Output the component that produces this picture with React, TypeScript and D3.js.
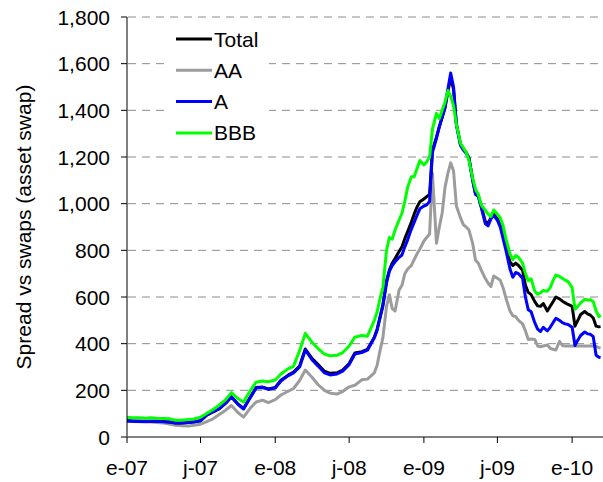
import React from 'react';
import * as d3 from 'd3';

const dates = [
  '2007-01-01','2007-01-15','2007-02-01','2007-02-15','2007-03-01','2007-03-15','2007-04-01','2007-04-15',
  '2007-05-01','2007-05-15','2007-06-01','2007-06-15','2007-07-01','2007-07-15','2007-08-01','2007-08-15',
  '2007-09-01','2007-09-15','2007-10-01','2007-10-15','2007-11-01','2007-11-15','2007-12-01','2007-12-15',
  '2008-01-01','2008-01-15','2008-02-01','2008-02-15','2008-03-01','2008-03-15','2008-04-01','2008-04-15',
  '2008-05-01','2008-05-15','2008-06-01','2008-06-15','2008-07-01','2008-07-15','2008-08-01','2008-08-15',
  '2008-09-01','2008-09-08','2008-09-15','2008-09-22','2008-10-01','2008-10-08','2008-10-15','2008-10-22',
  '2008-11-01','2008-11-08','2008-11-15','2008-11-22','2008-12-01','2008-12-08','2008-12-15','2008-12-22',
  '2009-01-01','2009-01-08','2009-01-15','2009-01-22','2009-02-01','2009-02-08','2009-02-15','2009-02-22',
  '2009-03-01','2009-03-08','2009-03-15','2009-03-22','2009-04-01','2009-04-08','2009-04-15','2009-04-22',
  '2009-05-01','2009-05-08','2009-05-15','2009-05-22','2009-06-01','2009-06-08','2009-06-15','2009-06-22',
  '2009-07-01','2009-07-08','2009-07-15','2009-07-22','2009-08-01','2009-08-08','2009-08-15','2009-08-22',
  '2009-09-01','2009-09-08','2009-09-15','2009-09-22','2009-10-01','2009-10-08','2009-10-15','2009-10-22',
  '2009-11-01','2009-11-08','2009-11-15','2009-11-22','2009-12-01','2009-12-08','2009-12-15','2009-12-22',
  '2010-01-01','2010-01-08','2010-01-15','2010-01-22','2010-02-01','2010-02-08','2010-02-15','2010-02-22',
  '2010-03-01','2010-03-08','2010-03-12',
];

const bbbValues = [
  85, 83, 82, 80, 82, 80, 79, 78,
  72, 72, 75, 77, 85, 100, 118, 135,
  160, 190, 165, 150, 200, 235, 240, 237,
  244, 270, 292, 303, 370, 444, 405, 380,
  355, 348, 350, 362, 390, 428, 435, 432,
  500, 537, 594, 640, 800, 855, 848, 887,
  930, 959, 1010, 1070, 1115, 1115, 1150, 1185,
  1166, 1180, 1200, 1320, 1387, 1365, 1400, 1435,
  1485, 1460, 1420, 1340, 1259, 1240, 1220, 1185,
  1110, 1062, 1040, 995, 973, 955, 945, 973,
  955, 940, 905, 850, 785, 760, 778, 770,
  745, 700, 670, 678, 625, 612, 618, 628,
  625, 640, 670, 694, 688, 680, 672, 666,
  640, 548, 560, 575, 590, 587, 588, 580,
  540, 516, 522,
];

const totalValues = [
  70, 69, 68, 67, 68, 67, 66, 64,
  60, 60, 62, 64, 70, 92, 108, 120,
  145, 172, 142, 122, 172, 212, 214, 206,
  212, 243, 264, 278, 304, 377, 336, 312,
  282, 273, 275, 287, 315, 360, 366, 376,
  428, 463, 515, 568, 670, 715, 745, 765,
  795, 815, 850, 880, 920, 955, 985, 1008,
  1020, 1030, 1040, 1230, 1285, 1330, 1370, 1410,
  1480, 1540, 1490, 1340, 1255, 1235, 1220, 1195,
  1105, 1045, 1035, 990, 925, 915, 940, 955,
  935, 910, 865, 815, 750, 735, 745, 735,
  715, 650, 620, 610, 580, 562, 560, 572,
  540, 560, 580, 600, 592, 582, 575, 568,
  560, 475, 500, 525, 538, 528, 522, 510,
  475, 472, 473,
];

const aValues = [
  70, 68, 67, 66, 68, 67, 65, 64,
  60, 60, 62, 65, 70, 92, 108, 120,
  145, 172, 140, 120, 170, 210, 212, 204,
  210, 240, 262, 275, 300, 373, 330, 305,
  275, 266, 270, 282, 310, 356, 362, 372,
  425, 459, 510, 560, 660, 710, 735, 751,
  770, 780, 815, 845, 890, 920, 950, 978,
  990, 995, 1010, 1220, 1280, 1330, 1370, 1415,
  1490, 1560, 1500, 1340, 1250, 1230, 1216, 1195,
  1100, 1040, 1030, 985, 915, 905, 935, 950,
  928, 900, 850, 800, 720, 685, 705, 700,
  680, 600, 545, 537, 490, 462, 452, 470,
  455, 470, 490, 509, 500, 490, 485, 482,
  470, 392, 415, 435, 450, 442, 440, 430,
  350, 342, 341,
];

const aaValues = [
  68, 66, 65, 64, 64, 62, 60, 56,
  50, 48, 47, 50, 55, 65, 78, 95,
  115, 135, 105, 85, 125, 150, 158, 147,
  160, 180, 195, 208, 242, 287, 255, 225,
  200, 188, 184, 195, 215, 222, 245, 248,
  275, 309, 370, 425, 560, 610, 550, 540,
  630, 650, 700, 720, 735, 760, 785, 805,
  840, 855, 870, 1130, 830, 900, 960, 1070,
  1130, 1175, 1140, 990, 940, 910, 900, 887,
  830, 759, 745, 716, 680, 660, 645, 690,
  680, 672, 640, 595, 540, 520, 516, 500,
  485, 455, 418, 420, 418, 390, 387, 390,
  394, 380, 376, 373, 410, 392, 390, 390,
  390, 390, 390, 390, 390, 390, 390, 390,
  388, 383, 381,
];

const yTicks = [0, 200, 400, 600, 800, 1000, 1200, 1400, 1600, 1800];
const xTickDates = ['2007-01-01', '2007-07-01', '2008-01-01', '2008-07-01', '2009-01-01', '2009-07-01', '2010-01-01'];
const xTickLabels = ['e-07', 'j-07', 'e-08', 'j-08', 'e-09', 'j-09', 'e-10'];
const seriesNames = ['Total', 'AA', 'A', 'BBB'];
const seriesColors = ['#000000', '#9c9c9c', '#0000ff', '#00ff00'];
const yTitle = 'Spread vs swaps (asset swap)';

const FONT = '"Liberation Sans", Arial, sans-serif';

export default function App() {
  const W = 603;
  const H = 482;
  const parse = d3.timeParse('%Y-%m-%d');
  const parsed = dates.map((d) => parse(d) as Date);
  const x = d3.scaleTime().domain([parse('2007-01-01') as Date, parse('2010-03-18') as Date]).range([127, 603]);
  const y = d3.scaleLinear().domain([0, 1800]).range([437, 17]);
  const fmt = d3.format(',');

  const seriesValues = [totalValues, aaValues, aValues, bbbValues];
  const line = d3
    .line<number>()
    .x((_, i) => x(parsed[i]))
    .y((v) => y(v))
    .curve(d3.curveLinear);

  const drawOrder = [1, 0, 2, 3];

  return (
    <svg
      width={W}
      height={H}
      style={{ position: 'absolute', left: 0, top: 0, background: '#fff', display: 'block' }}
      fontFamily={FONT}
    >
      <rect x={0} y={0} width={W} height={H} fill="#fff" />
      {/* gridlines */}
      {yTicks.filter((t) => t > 0).map((t) => (
        <line
          key={'g' + t}
          x1={128}
          x2={W}
          y1={y(t)}
          y2={y(t)}
          stroke="#8c8c8c"
          strokeWidth={1}
          strokeDasharray="8,6"
        />
      ))}
      {/* legend background */}
      <rect x={165} y={24} width={104} height={124} fill="#fff" />
      {/* series */}
      {drawOrder.map((si) => (
        <path
          key={'s' + si}
          d={line(seriesValues[si]) || ''}
          fill="none"
          stroke={seriesColors[si]}
          strokeWidth={3}
          strokeLinejoin="round"
        />
      ))}
      {/* y axis */}
      <line x1={127} x2={127} y1={y(1800)} y2={y(0)} stroke="#000" strokeWidth={1} />
      {yTicks.map((t) => (
        <g key={'yt' + t}>
          <line x1={121} x2={127} y1={y(t)} y2={y(t)} stroke="#000" strokeWidth={1} />
          <text x={110} y={y(t)} dy="0.36em" textAnchor="end" fontSize={21} fill="#000">
            {fmt(t)}
          </text>
        </g>
      ))}
      {/* x axis */}
      <line x1={127} x2={W} y1={y(0)} y2={y(0)} stroke="#808080" strokeWidth={2} />
      {xTickDates.map((d, i) => {
        const xx = x(parse(d) as Date);
        return (
          <g key={'xt' + d}>
            <line x1={xx} x2={xx} y1={y(0)} y2={y(0) + 6} stroke="#000" strokeWidth={1} />
            <text x={xx} y={475} textAnchor="middle" fontSize={21} fill="#000">
              {xTickLabels[i]}
            </text>
          </g>
        );
      })}
      {/* y title */}
      <text
        transform={`translate(31, ${227}) rotate(-90)`}
        textAnchor="middle"
        fontSize={21}
        fill="#000"
      >
        {yTitle}
      </text>
      {/* legend */}
      {seriesNames.map((name, i) => {
        const ly = 39 + i * 31.3;
        return (
          <g key={'lg' + name}>
            <line x1={176} x2={212} y1={ly} y2={ly} stroke={seriesColors[i]} strokeWidth={3} />
            <text x={214} y={ly} dy="0.36em" fontSize={21} fill="#000">
              {name}
            </text>
          </g>
        );
      })}
    </svg>
  );
}
